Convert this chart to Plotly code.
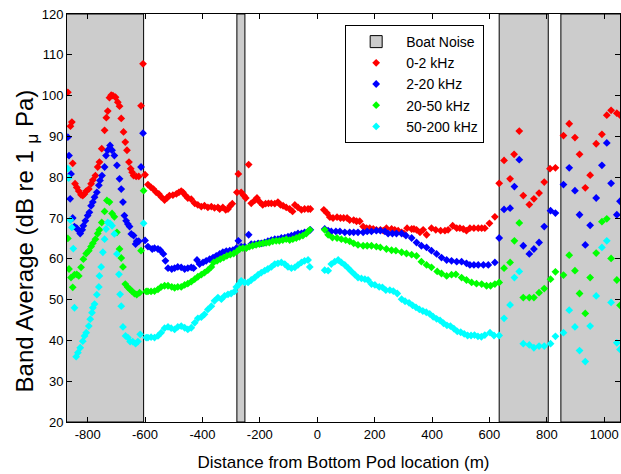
import plotly.graph_objects as go

# ---------------- data ----------------
# boat-noise intervals (m)
boat_start = [-900, -280, 634, 849]
boat_end = [-605, -252, 805, 1090]
axis_ymin, axis_ymax = 20, 120

# 0-2 kHz
dist_0_2 = [-869, -860, -855, -852, -844, -838, -831, -823, -817, -811, -805, -796, -788, -782, -773,
            -765, -759, -751, -741, -735, -730, -724, -718, -712, -703, -695, -689, -683, -675, -669,
            -663, -656, -650, -645, -640, -631, -622, -614, -607,
            -600, -590, -579, -571, -561, -552, -544, -532, -524, -515, -503, -491, -482, -474, -468,
            -459, -451, -439, -427, -416, -404, -393, -381, -369, -358, -346, -340, -329, -319, -311,
            -303, -296, -280, -275, -265, -256, -249, -239, -230, -218, -210, -200, -190, -180, -170,
            -160, -148, -137, -128, -119, -108, -96, -86, -78, -67, -55, -44, -32, -24,
            23, 34, 44, 55, 69, 81, 92, 104, 113, 127, 137, 148, 160, 172, 183, 195, 206, 220, 230,
            241, 259, 270, 282, 294, 302, 313, 329, 337, 346, 358, 369, 381, 398, 413, 430, 445, 456,
            472, 486, 497, 509, 520, 532, 546, 561, 573, 584, 600, 619,
            634, 651, 672, 686, 704, 718, 739, 755, 773, 791, 811, 830, 858, 878, 898, 914, 934, 951,
            972, 992, 1009, 1024, 1044, 1055]
level_0_2 = [100.8, 92.5, 93.5, 83.4, 78.4, 77.5, 76.6, 75.7, 75.5, 75.9, 76.6, 77.1, 78.4, 79.3, 80.4,
             82.5, 83.7, 87.0, 91.5, 94.6, 96.2, 99.5, 100.1, 100.0, 99.6, 98.4, 97.4, 94.4, 91.1, 88.6,
             86.6, 83.7, 82.1, 81.2, 80.4, 80.2, 80.2, 97.5, 107.8,
             80.6, 78.2, 77.5, 77.1, 76.3, 75.9, 75.2, 74.4, 74.9, 75.5, 75.6, 75.9, 76.3, 76.6, 76.3,
             75.5, 74.9, 74.6, 73.6, 73.2, 72.8, 73.0, 72.6, 72.8, 72.5, 72.6, 72.2, 72.6, 72.0, 72.2,
             73.0, 73.5, 76.3, 80.8, 76.3, 75.5, 74.9, 83.1, 73.6, 74.3, 74.9, 73.9, 73.2, 73.5, 73.6,
             73.6, 73.5, 73.9, 73.2, 73.0, 72.6, 72.2, 71.6, 73.2, 72.6, 72.0, 72.2, 72.2, 72.2,
             72.0, 71.2, 70.2, 70.0, 70.2, 70.0, 70.0, 70.0, 69.5, 69.5, 69.2, 69.2, 67.9, 67.5, 67.5,
             67.3, 67.1, 67.1, 66.9, 67.5, 67.3, 67.1, 66.9, 66.5, 66.2, 67.5, 67.3, 67.3, 67.1, 66.5,
             67.1, 65.9, 67.5, 67.1, 66.9, 66.9, 67.1, 68.1, 67.5, 67.5, 67.3, 66.9, 67.5, 67.5, 67.5,
             67.5, 67.5, 68.7, 70.3,
             78.5, 84.1, 79.6, 85.6, 91.3, 75.5, 73.3, 74.7, 76.1, 78.8, 82.1, 82.3, 90.2, 93.1, 89.7,
             85.6, 77.4, 80.5, 88.2, 90.5, 95.2, 96.4, 95.7, 95.2]

# 2-20 kHz
dist_2_20 = [-869, -865, -861, -858, -852, -846, -838, -831, -826, -819, -815, -808, -800, -794, -788,
             -782, -776, -768, -761, -757, -750, -741, -736, -730, -722, -715, -707, -698, -689, -683,
             -677, -672, -666, -660, -654, -648, -640, -633, -629, -622, -614, -607,
             -600, -590, -575, -567, -555, -547, -536, -529, -520, -507, -497, -486, -474, -462, -451,
             -439, -431, -419, -410, -398, -387, -375, -363, -352, -340, -329, -317, -305, -294, -282,
             -275, -265, -253, -239, -230, -218, -206, -195, -183, -172, -160, -148, -137, -125, -113,
             -102, -90, -78, -67, -55, -44, -32, -24,
             26, 38, 49, 65, 79, 96, 113, 127, 142, 160, 174, 189, 206, 220, 236, 247, 262, 276, 294,
             309, 329, 346, 363, 381, 398, 416, 433, 451, 468, 486, 503, 520, 532, 546, 561, 579, 596,
             619,
             634, 651, 672, 687, 704, 718, 739, 755, 773, 791, 813, 830, 858, 878, 898, 914, 934, 951,
             972, 992, 1009, 1024, 1044, 1055]
level_2_20 = [89.8, 85.3, 74.7, 80.8, 70.0, 67.9, 67.5, 66.9, 66.2, 67.1, 68.1, 69.3, 70.6, 71.4, 73.0,
              73.9, 75.1, 76.3, 78.0, 79.2, 80.4, 82.5, 85.3, 86.6, 87.8, 86.6, 85.3, 82.9, 79.6, 77.1,
              73.9, 70.6, 69.3, 68.5, 67.9, 66.1, 65.7, 63.6, 64.3, 64.3, 82.5, 90.8,
              64.5, 63.0, 62.4, 62.6, 62.4, 62.1, 61.2, 59.5, 57.7, 57.5, 57.7, 58.0, 57.9, 57.5, 57.7,
              57.9, 57.7, 59.7, 58.7, 59.1, 59.5, 59.9, 60.3, 60.7, 61.2, 61.6, 61.9, 62.0, 62.1, 62.6,
              64.4, 63.0, 63.0, 65.9, 63.6, 63.6, 63.8, 63.8, 64.0, 64.3, 64.6, 64.8, 64.8, 65.1, 65.2,
              65.4, 65.7, 65.9, 66.2, 66.2, 66.5, 66.7, 67.1,
              67.3, 66.9, 66.7, 66.7, 66.7, 66.5, 66.5, 66.5, 66.5, 66.5, 66.7, 66.7, 66.9, 66.9, 66.7,
              66.2, 66.2, 66.2, 66.2, 65.7, 65.1, 64.0, 63.2, 62.8, 62.0, 61.2, 60.3, 59.7, 59.5, 59.3,
              59.3, 58.9, 58.5, 58.5, 58.5, 58.5, 58.5, 59.1,
              65.1, 72.1, 72.4, 77.7, 84.3, 63.2, 61.2, 62.4, 64.0, 67.9, 71.8, 71.2, 78.2, 82.3, 76.7,
              70.8, 63.4, 68.2, 74.9, 82.9, 88.4, 78.5, 70.8, 74.1]

# 20-50 kHz
dist_20_50 = [-869, -865, -858, -852, -846, -838, -831, -823, -815, -805, -796, -788, -782, -773, -765,
              -759, -751, -741, -733, -724, -715, -707, -698, -689, -683, -677, -669, -660, -652, -645,
              -637, -629, -619, -614, -605,
              -596, -590, -579, -567, -555, -544, -532, -520, -507, -497, -486, -474, -462, -451, -439,
              -427, -416, -404, -393, -381, -369, -361, -349, -338, -326, -315, -303, -291, -280, -270,
              -259, -247, -236, -225, -213, -201, -189, -178, -167, -155, -143, -132, -120, -108, -96,
              -85, -73, -62, -50, -38, -26,
              26, 38, 53, 69, 84, 99, 113, 127, 142, 160, 174, 189, 206, 220, 241, 259, 274, 294, 311,
              329, 346, 363, 381, 398, 418, 433, 451, 468, 483, 503, 520, 538, 555, 573, 590, 604, 619,
              634, 651, 672, 687, 704, 718, 739, 755, 773, 791, 813, 830, 858, 878, 898, 914, 934, 951,
              972, 992, 1009, 1024, 1044, 1055]
level_20_50 = [65.0, 57.5, 55.4, 53.0, 56.1, 56.2, 55.8, 57.9, 59.9, 61.3, 62.0, 63.0, 63.8, 64.8, 66.2,
               67.1, 68.9, 71.6, 74.3, 73.9, 71.1, 70.3, 66.5, 62.4, 60.2, 58.0, 53.8, 53.0, 52.5, 52.0,
               51.5, 51.2, 51.7, 62.0, 76.7,
               52.0, 52.0, 52.0, 52.1, 52.5, 53.1, 53.4, 53.4, 53.1, 52.9, 53.1, 53.1, 53.6, 53.9, 54.4,
               55.0, 55.6, 56.1, 56.6, 57.2, 58.0, 59.1, 59.5, 59.9, 60.3, 60.7, 61.0, 61.3, 61.8, 62.4,
               62.6, 62.6, 63.0, 63.2, 63.4, 63.6, 63.8, 63.9, 64.0, 64.3, 64.4, 64.4, 64.6, 64.8, 64.6,
               64.8, 65.1, 65.4, 65.7, 66.2, 67.1,
               67.1, 65.9, 65.2, 65.1, 64.8, 64.6, 64.3, 63.8, 63.4, 63.2, 63.2, 63.2, 63.0, 62.8, 62.4,
               62.1, 62.0, 61.6, 61.3, 61.0, 60.7, 59.3, 58.5, 57.9, 56.9, 56.4, 55.8, 56.1, 56.2, 55.4,
               54.8, 54.2, 53.9, 53.8, 53.4, 53.4, 53.8,
               54.2, 57.7, 59.1, 64.4, 68.8, 50.5, 50.5, 50.5, 51.7, 52.7, 55.0, 56.8, 56.0, 60.9, 57.1,
               51.5, 46.6, 55.4, 61.4, 69.1, 69.8, 60.1, 54.8, 48.6]

# 50-200 kHz
dist_50_200 = [-869, -866, -860, -855, -850, -846, -840, -834, -826, -817, -811, -805, -796, -791, -785,
               -782, -776, -768, -761, -759, -753, -747, -741, -736, -730, -722, -715, -707, -698, -691,
               -687, -683, -677, -668, -660, -652, -643, -633, -625, -617, -605,
               -596, -590, -579, -567, -555, -544, -532, -520, -509, -497, -486, -474, -462, -451, -439,
               -427, -416, -404, -393, -381, -369, -358, -346, -334, -323, -311, -300, -288, -282, -273,
               -265, -253, -241, -230, -218, -206, -195, -183, -172, -160, -148, -137, -125, -113, -102,
               -90, -78, -67, -55, -44, -32, -26,
               26, 38, 49, 61, 73, 84, 96, 108, 119, 131, 142, 154, 166, 177, 189, 201, 216, 227, 239,
               253, 265, 279, 294, 306, 320, 332, 344, 356, 368, 380, 392, 404, 416, 428, 440, 452, 464,
               476, 488, 500, 512, 524, 536, 548, 560, 572, 584, 602, 616,
               634, 651, 672, 687, 704, 718, 739, 755, 773, 791, 813, 830, 858, 878, 898, 914, 934, 951,
               972, 992, 1009, 1024, 1044, 1055]
level_50_200 = [82.1, 79.8, 69.5, 67.7, 62.5, 48.0, 36.0, 37.0, 38.2, 39.8, 41.1, 41.9, 43.5, 45.2, 46.8,
                48.0, 48.9, 51.2, 53.1, 55.8, 58.0, 61.6, 64.8, 67.3, 68.9, 68.7, 68.1, 66.1, 61.2, 56.2,
                51.3, 48.4, 43.3, 41.1, 40.7, 39.7, 39.7, 39.2, 39.7, 41.5, 68.7,
                40.7, 40.7, 40.8, 40.7, 41.1, 41.9, 43.0, 43.3, 43.0, 42.7, 43.3, 43.5, 43.1, 42.7, 43.1,
                44.3, 45.4, 45.7, 46.4, 47.6, 48.4, 49.7, 50.5, 50.1, 50.9, 51.3, 51.5, 52.0, 53.1, 53.8,
                54.6, 54.2, 54.2, 54.8, 55.4, 56.1, 56.6, 57.1, 57.5, 58.0, 58.7, 58.9, 59.1, 58.7, 58.0,
                57.7, 57.9, 58.5, 59.1, 59.5, 59.7, 58.0,
                57.2, 57.1, 58.7, 59.3, 59.7, 59.1, 58.5, 57.7, 56.9, 56.1, 55.4, 55.2, 55.0, 54.8, 53.8,
                53.6, 53.1, 53.0, 52.3, 52.3, 52.1, 51.5, 50.1, 49.6, 49.2, 48.6, 48.1, 47.6, 47.2, 46.9,
                46.5, 45.8, 45.3, 44.9, 44.2, 43.7, 43.5, 42.9, 42.2, 42.0, 41.6, 41.2, 41.2, 41.3, 41.0,
                40.9, 41.3, 41.9, 41.2,
                41.2, 45.4, 48.7, 55.4, 56.9, 39.2, 38.9, 38.2, 38.6, 38.6, 39.2, 41.0, 41.9, 47.4, 43.3,
                37.5, 34.8, 43.5, 50.9, 62.8, 64.4, 49.3, 39.4, 37.8]

band_names = ["0-2 kHz", "2-20 kHz", "20-50 kHz", "50-200 kHz"]
band_colors = ["#ff0000", "#0000ff", "#00ff00", "#00ffff"]

x_ticks = [-800, -600, -400, -200, 0, 200, 400, 600, 800, 1000]
x_tick_labels = ["-800", "-600", "-400", "-200", "0", "200", "400", "600", "800", "1000"]
y_ticks = [20, 30, 40, 50, 60, 70, 80, 90, 100, 110, 120]

# ---------------- figure ----------------
fig = go.Figure()

# boat-noise rectangles from the intervals (first one carries the legend entry)
shapes = []
for i, (a, b) in enumerate(zip(boat_start, boat_end)):
    shapes.append(dict(type="rect", xref="x", yref="y", x0=a, x1=b, y0=axis_ymin, y1=axis_ymax,
                       fillcolor="#cccccc", line=dict(color="black", width=1), layer="below",
                       name="Boat Noise", showlegend=(i == 0), legendrank=1,
                       legendgroup="boat"))

for k, (xs, ys, nm, col) in enumerate(zip([dist_0_2, dist_2_20, dist_20_50, dist_50_200],
                                          [level_0_2, level_2_20, level_20_50, level_50_200],
                                          band_names, band_colors)):
    fig.add_trace(go.Scatter(x=xs, y=ys, mode="markers", name=nm, legendrank=2 + k,
                             marker=dict(symbol="diamond", size=6, color=col, line=dict(width=0))))

font_family = "Arial, 'Liberation Sans', Helvetica, sans-serif"
fig.update_layout(
    width=621, height=474,
    margin=dict(l=67, r=1, t=14, b=52, autoexpand=False),
    paper_bgcolor="white", plot_bgcolor="white",
    font=dict(family=font_family, size=13, color="black"),
    showlegend=True,
    shapes=shapes,
    legend=dict(x=0.503, y=0.973, xanchor="left", yanchor="top",
                bgcolor="white", bordercolor="black", borderwidth=1,
                font=dict(size=14, family=font_family, color="black"),
                itemwidth=50, tracegroupgap=0),
    xaxis=dict(range=[-872, 1055], tickvals=x_ticks, ticktext=x_tick_labels,
               ticks="inside", ticklen=5, tickcolor="black", showline=True, linecolor="black",
               linewidth=1, mirror="ticks", showgrid=False, zeroline=False, automargin=False,
               tickfont=dict(size=13),
               title=dict(text="Distance from Bottom Pod location (m)", font=dict(size=17), standoff=15)),
    yaxis=dict(range=[20, 120], tickvals=y_ticks, ticks="inside", ticklen=5, tickcolor="black",
               showline=True, linecolor="black", linewidth=1, mirror="ticks", showgrid=False,
               zeroline=False, automargin=False, tickfont=dict(size=13)),
    annotations=[dict(text="Band Average (dB re 1 <sub>\u03bc</sub> Pa)", textangle=-90,
                      xref="paper", yref="paper", x=-0.073, y=0.444, xanchor="center",
                      yanchor="middle", showarrow=False, font=dict(size=24))],
)

fig.write_html("out.html", config={"displayModeBar": False},
               post_script="document.body.style.margin='0px';document.body.style.padding='0px';")
